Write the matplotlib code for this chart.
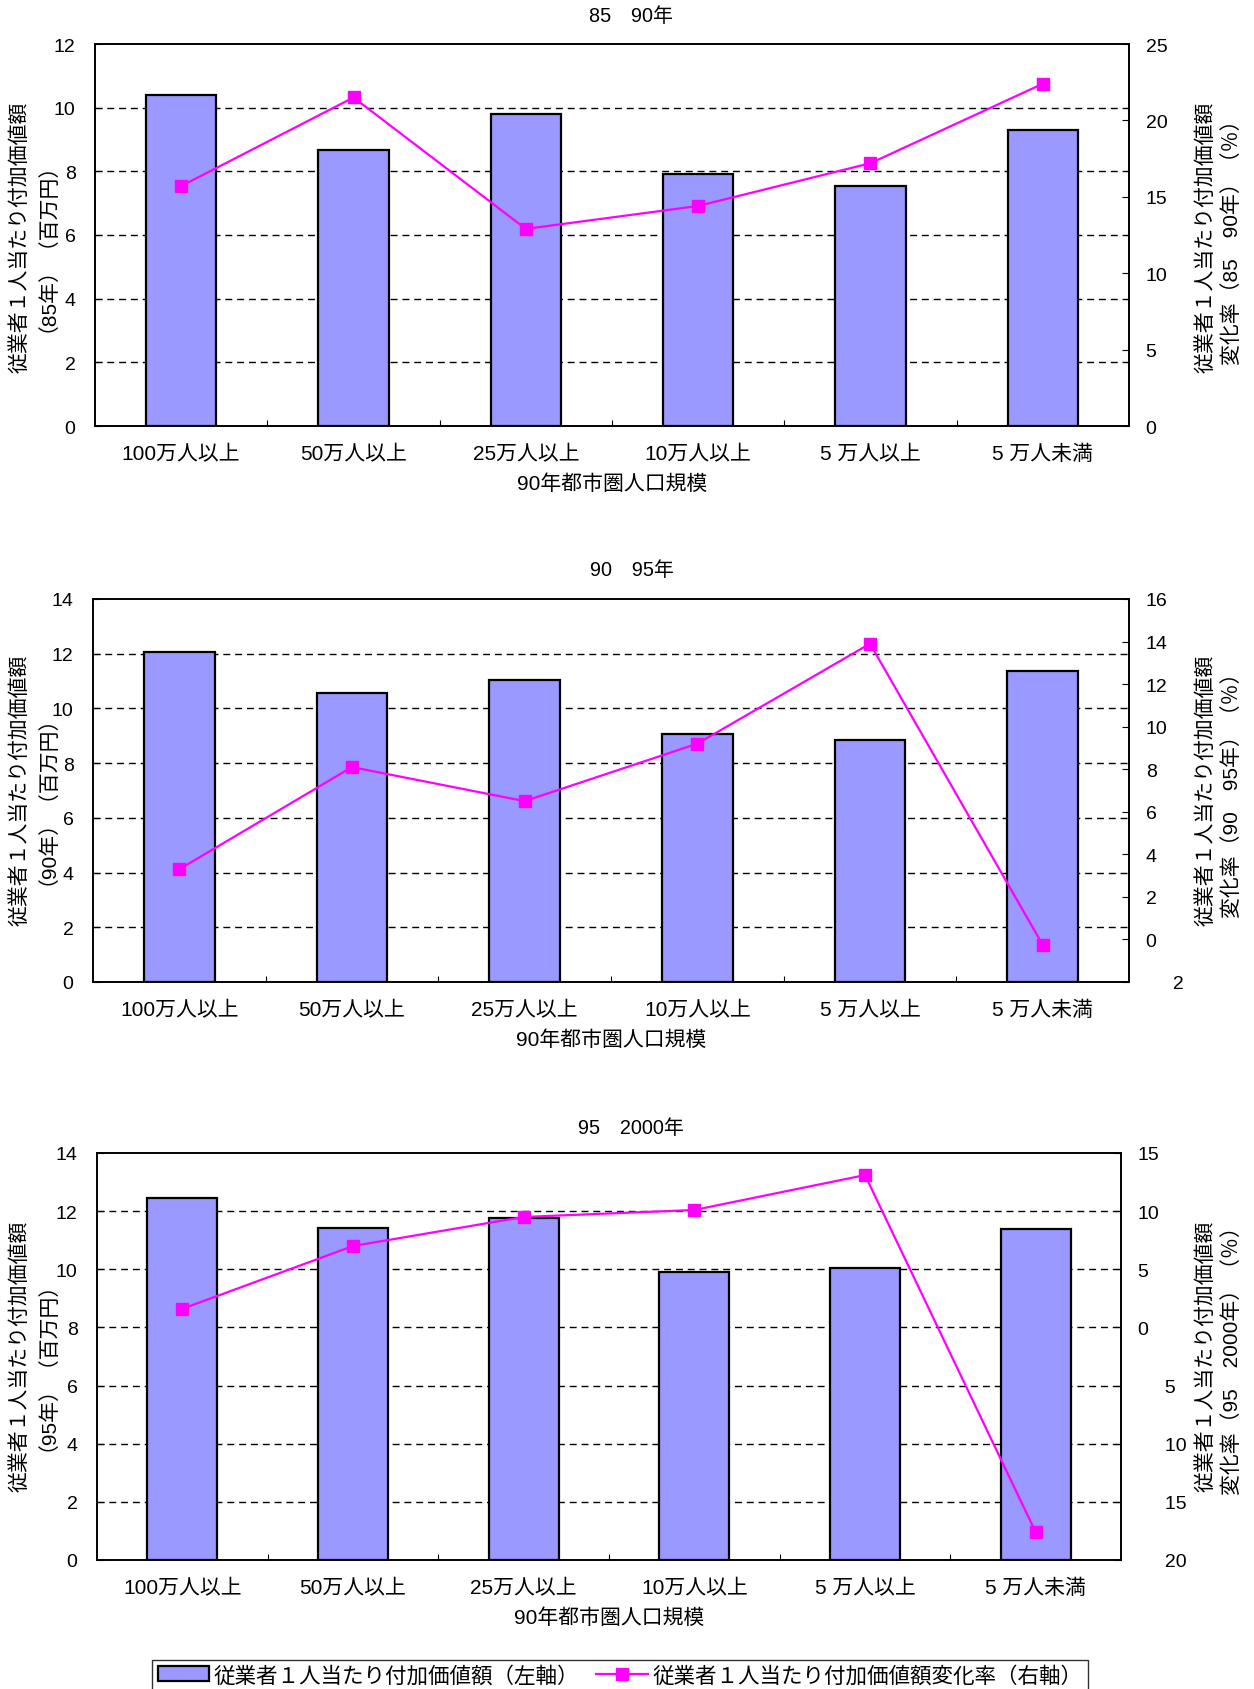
import matplotlib
matplotlib.use("Agg")
import matplotlib.pyplot as plt
import numpy as np
from matplotlib.ticker import FixedLocator, FuncFormatter
from matplotlib.patches import Patch
from matplotlib.lines import Line2D

plt.rcParams['font.family'] = ['Liberation Sans', 'Noto Sans CJK JP', 'DejaVu Sans']

categories = ["100万人以上", "50万人以上", "25万人以上", "10万人以上", "5 万人以上", "5 万人未満"]
xlabel = "90年都市圏人口規模"

titles = ["85　90年", "90　95年", "95　2000年"]

bars_8590 = [10.41, 8.68, 9.80, 7.93, 7.53, 9.29]
rate_8590 = [15.7, 21.5, 12.9, 14.4, 17.2, 22.4]

bars_9095 = [12.07, 10.57, 11.04, 9.07, 8.83, 11.36]
rate_9095 = [3.3, 8.1, 6.5, 9.2, 13.9, -0.25]

bars_9500 = [12.44, 11.41, 11.78, 9.89, 10.04, 11.37]
rate_9500 = [1.6, 7.0, 9.5, 10.1, 13.1, -17.6]

left_label_main = "従業者１人当たり付加価値額"
left_label_sub = ["（85年）（百万円）", "（90年）（百万円）", "（95年）（百万円）"]
right_label_main = "従業者１人当たり付加価値額"
right_label_sub = ["変化率（85　90年）（％）", "変化率（90　95年）（％）", "変化率（95　2000年）（％）"]

legend_labels = ["従業者１人当たり付加価値額（左軸）", "従業者１人当たり付加価値額変化率（右軸）"]

left_ranges = [(0, 12, 2), (0, 14, 2), (0, 14, 2)]
right_ranges = [(0, 25, 5), (-2, 16, 2), (-20, 15, 5)]

W, H = 1254, 1690
fig = plt.figure(figsize=(W / 100, H / 100), dpi=100)

# pixel boxes: left, right, top, bottom
boxes = [(95, 1129, 45, 427), (93, 1129, 600, 983), (97, 1121, 1154, 1561)]
title_pos = [(631, 16), (632, 571), (631, 1129)]
label_y = [237, 790, 1356]

bar_color = "#9999FF"
line_color = "#FF00FF"

def rfmt(v, pos):
    v = int(round(v))
    if v < 0:
        return "     " + str(abs(v))
    return str(v)

series = [(bars_8590, rate_8590), (bars_9095, rate_9095), (bars_9500, rate_9500)]
x = np.arange(len(categories))

for i, (bl, rl) in enumerate(series):
    l, r, t, b = boxes[i]
    ax = fig.add_axes([l / W, 1 - b / H, (r - l) / W, (b - t) / H])
    lo, hi, st = left_ranges[i]
    ax.bar(x, bl, width=0.41, color=bar_color, edgecolor="black", linewidth=1.6, zorder=2)
    ax.set_xlim(-0.5, len(categories) - 0.5)
    ax.set_ylim(lo, hi)
    ax.set_yticks(np.arange(lo, hi + 0.01, st))
    for yv in np.arange(lo + st, hi, st):
        ax.axhline(yv, color="black", lw=1.0, ls=(0, (5, 3.5)), zorder=1)
    ax.set_xticks(x)
    ax.set_xticklabels(categories, fontsize=15)
    ax.xaxis.set_minor_locator(FixedLocator(np.arange(0.5, len(categories) - 0.5, 1)))
    ax.tick_params(axis="x", which="major", length=0, pad=13)
    ax.tick_params(axis="x", which="minor", direction="in", length=4, width=0.8)
    ax.tick_params(axis="y", direction="in", length=5, width=0.8, labelsize=14, pad=14)
    ax.set_xlabel(xlabel, fontsize=15, labelpad=7)
    for s in ax.spines.values():
        s.set_linewidth(1.2)

    ax2 = ax.twinx()
    rlo, rhi, rst = right_ranges[i]
    ax2.plot(x, rl, color=line_color, lw=1.6, marker="s", markersize=8,
             markerfacecolor=line_color, markeredgecolor=line_color, zorder=3)
    ax2.set_ylim(rlo, rhi)
    ax2.set_yticks(np.arange(rlo, rhi + 0.01, rst))
    ax2.yaxis.set_major_formatter(FuncFormatter(rfmt))
    ax2.tick_params(axis="y", direction="in", length=5, width=0.8, labelsize=14, pad=12)
    for s in ax2.spines.values():
        s.set_linewidth(1.2)

    tx, ty = title_pos[i]
    fig.text(tx / W, 1 - ty / H, titles[i], ha="center", va="center", fontsize=14.3)
    yc = 1 - label_y[i] / H
    fig.text(20 / W, yc, left_label_main, rotation=90, ha="center", va="center", fontsize=15)
    fig.text(37 / W, yc, left_label_sub[i], rotation=90, ha="center", va="center", fontsize=15)
    fig.text(1206 / W, yc, right_label_main, rotation=90, ha="center", va="center", fontsize=15)
    fig.text(1232 / W, yc, right_label_sub[i], rotation=90, ha="center", va="center", fontsize=15)

handles = [Patch(facecolor=bar_color, edgecolor="black", linewidth=1.6),
           Line2D([0], [0], color=line_color, lw=1.6, marker="s", markersize=8)]
leg = fig.legend(handles, legend_labels, loc="upper center", ncol=2,
                 bbox_to_anchor=(620 / W, 1 - 1661 / H), fontsize=15.5, frameon=True,
                 fancybox=False, edgecolor="black", handlelength=2.4, handletextpad=0.2,
                 columnspacing=0.8, borderpad=0.25, borderaxespad=0)
leg.get_frame().set_linewidth(1.0)

fig.savefig("out.png", dpi=100)
